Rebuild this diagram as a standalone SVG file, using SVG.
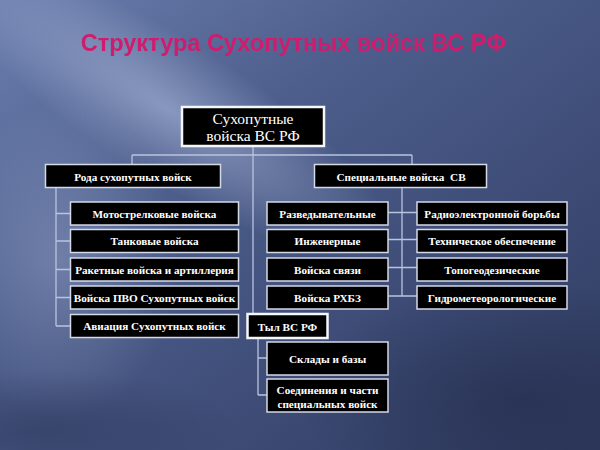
<svg xmlns="http://www.w3.org/2000/svg" width="600" height="450" viewBox="0 0 600 450">
<defs>
<linearGradient id="bg" x1="0" y1="0" x2="1" y2="1">
<stop offset="0" stop-color="#6b7dad"/>
<stop offset="0.35" stop-color="#4d5e8c"/>
<stop offset="0.7" stop-color="#3c4a74"/>
<stop offset="1" stop-color="#2f3a5e"/>
</linearGradient>
<radialGradient id="hl" cx="0.5" cy="0.5" r="0.5">
<stop offset="0" stop-color="#c8d4f0" stop-opacity="0.45"/>
<stop offset="1" stop-color="#c8d4f0" stop-opacity="0"/>
</radialGradient>
<radialGradient id="dk" cx="0.5" cy="0.5" r="0.5">
<stop offset="0" stop-color="#1e2744" stop-opacity="0.5"/>
<stop offset="1" stop-color="#1e2744" stop-opacity="0"/>
</radialGradient>
<filter id="soft" x="-5%" y="-30%" width="110%" height="160%">
<feGaussianBlur stdDeviation="0.7"/>
</filter>
</defs>
<style>
.box{fill:#000;stroke:#d4d9e6;stroke-width:1.5}
.main{fill:#000;stroke:#f4f6fa;stroke-width:2.5}
.t{font-family:'Liberation Serif','DejaVu Serif','Times New Roman',serif;fill:#fff;text-anchor:middle;font-weight:bold;font-size:11.2px}
.tb{font-family:'Liberation Serif','DejaVu Serif','Times New Roman',serif;fill:#fff;text-anchor:middle;font-size:15.5px}
.c{stroke:#b9c4de;stroke-width:1.3;fill:none}
</style>
<rect width="600" height="450" fill="url(#bg)"/>
<ellipse cx="170" cy="110" rx="260" ry="70" transform="rotate(32 170 110)" fill="url(#hl)"/>
<ellipse cx="60" cy="260" rx="120" ry="160" fill="url(#hl)" opacity="0.6"/>
<ellipse cx="520" cy="400" rx="220" ry="120" fill="url(#dk)"/>
<ellipse cx="40" cy="430" rx="200" ry="60" fill="url(#dk)" opacity="0.7"/>

<text x="293.5" y="51" font-family="Liberation Sans, Arial, sans-serif" font-weight="bold" font-size="23.5" fill="#d01b6c" text-anchor="middle" filter="url(#soft)">Структура Сухопутных войск ВС РФ</text>

<g id="connectors">
<path class="c" d="M253 146V314M132 155H412M132 155V164M412 155V164"/>
<path class="c" d="M56 188V326M56 213.5H70M56 241H70M56 269.5H70M56 297.5H70M56 326H70"/>
<path class="c" d="M402 188V296M388 212.5H417M388 239.5H417M388 267.5H417M388 296H417"/>
<path class="c" d="M258 338V395M258 358H267M258 395H267"/>
</g>

<g id="root"><rect class="main" x="182" y="107" width="142" height="39"/>
<text class="tb" x="253" y="124">Сухопутные</text><text class="tb" x="253" y="141">войска ВС РФ</text></g>

<g id="roda"><rect class="box" x="45.5" y="164.5" width="175" height="23"/><text class="t" x="133" y="180.5" font-size="12">Рода сухопутных войск</text></g>
<g id="spec"><rect class="box" x="314.5" y="164.5" width="172" height="23"/><text class="t" x="401" y="180.5" font-size="12" xml:space="preserve">Специальные войска  СВ</text></g>

<g id="n1"><rect class="box" x="70.5" y="202" width="168" height="23"/><text class="t" x="154.5" y="217.5">Мотострелковые войска</text></g>
<g id="n2"><rect class="box" x="70.5" y="229.5" width="168" height="23"/><text class="t" x="154.5" y="245">Танковые войска</text></g>
<g id="n3"><rect class="box" x="70.5" y="258" width="168" height="23"/><text class="t" x="154.5" y="273.5" font-size="10.6">Ракетные войска и артиллерия</text></g>
<g id="n4"><rect class="box" x="70.5" y="286" width="168" height="23"/><text class="t" x="154.5" y="301.5" font-size="10.8">Войска ПВО Сухопутных войск</text></g>
<g id="n5"><rect class="box" x="70.5" y="314.5" width="168" height="23"/><text class="t" x="154.5" y="330">Авиация Сухопутных войск</text></g>

<g id="s1"><rect class="box" x="267" y="202" width="121" height="23"/><text class="t" x="327.5" y="217.5">Разведывательные</text></g>
<g id="s2"><rect class="box" x="267" y="229.5" width="121" height="23"/><text class="t" x="327.5" y="245">Инженерные</text></g>
<g id="s3"><rect class="box" x="267" y="258" width="121" height="23"/><text class="t" x="327.5" y="273.5">Войска связи</text></g>
<g id="s4"><rect class="box" x="267" y="286" width="121" height="23"/><text class="t" x="327.5" y="301.5">Войска РХБЗ</text></g>

<g id="r1"><rect class="box" x="417" y="202" width="150" height="23"/><text class="t" x="492" y="217.5">Радиоэлектронной борьбы</text></g>
<g id="r2"><rect class="box" x="417" y="229.5" width="150" height="23"/><text class="t" x="492" y="245">Техническое обеспечение</text></g>
<g id="r3"><rect class="box" x="417" y="258" width="150" height="23"/><text class="t" x="492" y="273.5">Топогеодезические</text></g>
<g id="r4"><rect class="box" x="417" y="286" width="150" height="23"/><text class="t" x="492" y="301.5">Гидрометеорологические</text></g>

<g id="tyl"><rect class="main" x="247.5" y="314" width="80" height="24" stroke-width="2"/><text class="t" x="287.5" y="331" font-size="14" font-weight="normal">Тыл ВС РФ</text></g>
<g id="t1"><rect class="box" x="267" y="342" width="121" height="33"/><text class="t" x="327.5" y="362.5" font-size="13" font-weight="normal">Склады и базы</text></g>
<g id="t2"><rect class="box" x="267" y="379" width="121" height="33"/><text class="t" x="327.5" y="393.5" font-size="12">Соединения и части</text><text class="t" x="327.5" y="407.5" font-size="12">специальных войск</text></g>
</svg>
